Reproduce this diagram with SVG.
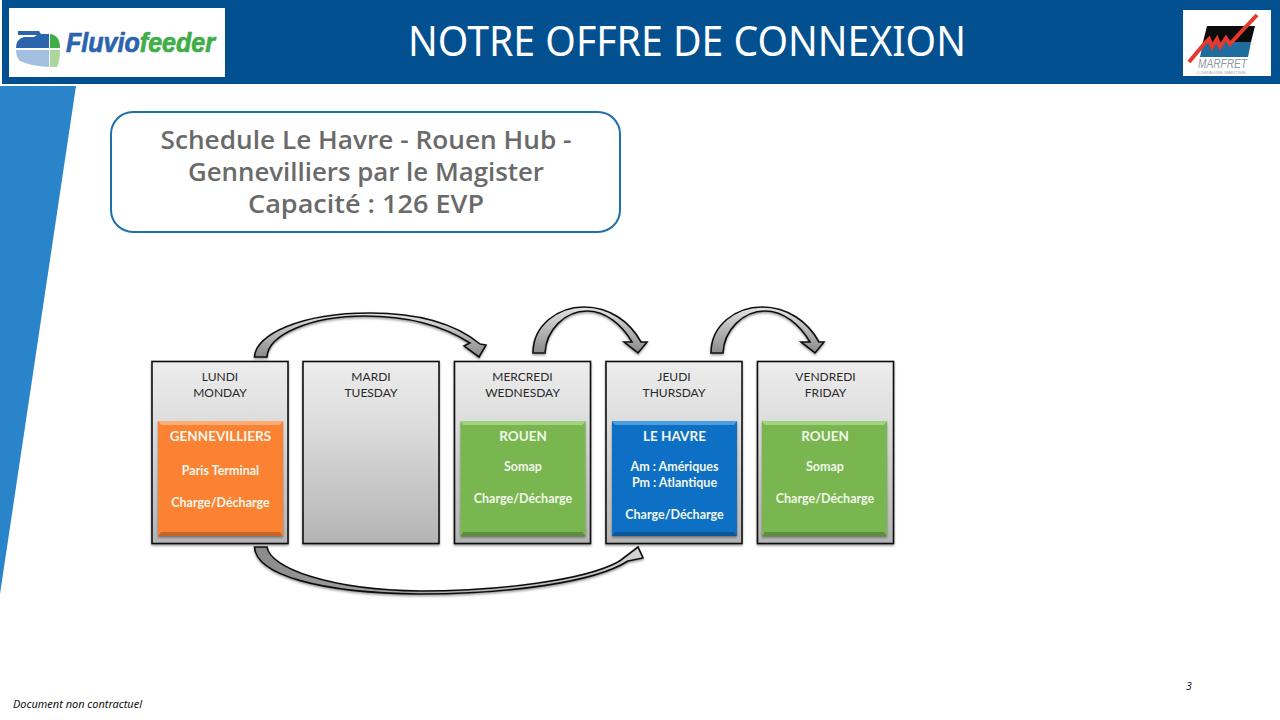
<svg xmlns="http://www.w3.org/2000/svg" width="1280" height="720" viewBox="0 0 1280 720">
<style>
.day{fill:url(#dayFill);stroke:#111;stroke-width:1.6;filter:url(#shadow)}
.dayText{font:12px Lato,"Liberation Sans",sans-serif;fill:#2a2a2a;text-anchor:middle}
.card{filter:url(#shadow)}
.bevel{fill:#000;fill-opacity:.22}
.cardText{font:bold 12.500px Lato,"Liberation Sans",sans-serif;fill:#f1f6ea;text-anchor:middle}
.cardHead{font-size:13.500px}
.arrow{stroke:#111;stroke-width:1.6;stroke-linejoin:miter;filter:url(#shadow)}
.titleBox{font:600 25px "Open Sans","DejaVu Sans",sans-serif;fill:#6a6a6a;text-anchor:middle}
</style>
<defs>
<linearGradient id="dayFill" x1="0" y1="0" x2="0" y2="1"><stop offset="0" stop-color="#ededed"/><stop offset="0.35" stop-color="#dcdcdc"/><stop offset="1" stop-color="#b4b4b4"/></linearGradient>
<linearGradient id="up" x1="0" y1="1" x2="0" y2="0"><stop offset="0" stop-color="#8a8a8a"/><stop offset="1" stop-color="#e4e4e4"/></linearGradient>
<linearGradient id="down" x1="0" y1="0" x2="1" y2="0"><stop offset="0" stop-color="#8a8a8a"/><stop offset="1" stop-color="#d4d4d4"/></linearGradient>
<filter id="shadow" x="-10%" y="-10%" width="120%" height="120%"><feDropShadow dx="0" dy="1.500" stdDeviation="1.300" flood-color="#000" flood-opacity="0.4"/></filter>
</defs>
<rect width="1280" height="720" fill="#fff"/>
<g id="header">
<rect x="2" y="0" width="1278" height="84" fill="#02508f"/>
<text x="687" y="56" font-family="'Noto Sans','Open Sans',sans-serif" font-size="41" fill="#fff" text-anchor="middle" textLength="558" lengthAdjust="spacingAndGlyphs">NOTRE OFFRE DE CONNEXION</text>
</g>
<path id="side-band" d="M0 86H76L0 594Z" fill="#2a84ca"/>
<g id="logo-fluviofeeder">
<rect x="9" y="8" width="216" height="69" fill="#fff"/>
<path d="M18 31H39L41 34H49V48H16Q16 39 24 37H34L37 35H18Z" fill="#2b64ad"/>
<path d="M50 34Q60 35 60 48H50Z" fill="#3fae49"/>
<path d="M16 50H49V67Q30 66 20 61Q16 57 16 50Z" fill="#a3bfe0"/>
<path d="M50 50H60Q60 62 57 67H50Z" fill="#a9d79d"/>
<text x="66" y="52" font-family="'Liberation Sans',sans-serif" font-weight="bold" font-style="italic" font-size="27" textLength="149" lengthAdjust="spacingAndGlyphs" fill="#2b64ad" stroke="#2b64ad" stroke-width=".7">Fluvio<tspan fill="#3fae49" stroke="#3fae49">feeder</tspan></text>
</g>
<g id="logo-marfret">
<rect x="1183" y="10" width="88" height="66" fill="#fff"/>
<path d="M1207 26H1255L1251 42H1203Z" fill="#0b0b0b"/>
<path d="M1203 42H1251L1248 57H1200Z" fill="#1f6c9e"/>
<path d="M1189 62L1204 44L1209 39L1212 47L1217 39L1220 47L1226 38L1230 44L1240 33L1257 15" fill="none" stroke="#e5392d" stroke-width="4"/>
<text x="1198" y="68" font-family="'Liberation Sans',sans-serif" font-style="italic" font-size="13" fill="#8e9aa8" textLength="49" lengthAdjust="spacingAndGlyphs">MARFRET</text>
<text x="1196" y="73.500" font-family="'Liberation Sans',sans-serif" font-size="4" fill="#a5adb8" textLength="50" lengthAdjust="spacingAndGlyphs">COMPAGNIE MARITIME</text>
</g>
<g id="title-box">
<rect x="111" y="112" width="509" height="120" rx="22" fill="#fff" stroke="#1d6fae" stroke-width="2"/>
<text class="titleBox" x="366" y="149" textLength="411" lengthAdjust="spacingAndGlyphs">Schedule Le Havre - Rouen Hub -</text>
<text class="titleBox" x="366" y="181" textLength="356" lengthAdjust="spacingAndGlyphs">Gennevilliers par le Magister</text>
<text class="titleBox" x="366" y="213" textLength="236" lengthAdjust="spacingAndGlyphs">Capacité : 126 EVP</text>
</g>
<g id="connectors">
<path class="arrow" fill="url(#up)" d="M254.500 357C255 335 300 313 370 313C420 313 457 325 480 344L486 345L479 357L464 346L470 343C445 327 410 316 365 316C310 316 268 335 267 357Z"/>
<path class="arrow" fill="url(#up)" d="M533 353C533 325 558 307 584 307C610 307 630 322 641 342H647L638 353L624 342H632C622 325 606 311 587 311C565 311 546 330 545 353Z"/>
<path class="arrow" fill="url(#up)" d="M711 353C711 325 736 307 762 307C788 307 808 322 819 342H824L815 353L801 342H810C800 325 784 311 765 311C743 311 724 330 723 353Z"/>
<path class="arrow" fill="url(#down)" d="M254.500 547H267C270 568 330 590 420 591C500 591 585 580 618 562L621 560L638 547L643 558L628 561C595 582 510 594 420 594C320 593 256 575 254.500 547Z"/>
</g>
<g id="day-lundi">
<rect class="day" x="152" y="361.500" width="136" height="182"/>
<text class="dayText" x="220" y="381">LUNDI</text><text class="dayText" x="220" y="397">MONDAY</text>
<rect class="card" x="158" y="421" width="125" height="115" fill="#fb8233"/>
<path d="M158 421H283L280 425H161Z" fill="#fdae75"/>
<path class="bevel" d="M158 536H283L280 532H161Z"/>
<text class="cardText cardHead" x="220.500" y="441">GENNEVILLIERS</text>
<text class="cardText" x="220.500" y="475">Paris Terminal</text>
<text class="cardText" x="220.500" y="507">Charge/Décharge</text>
</g>
<g id="day-mardi">
<rect class="day" x="303" y="361.500" width="136" height="182"/>
<text class="dayText" x="371" y="381">MARDI</text><text class="dayText" x="371" y="397">TUESDAY</text>
</g>
<g id="day-mercredi">
<rect class="day" x="454.500" y="361.500" width="136" height="182"/>
<text class="dayText" x="522.500" y="381">MERCREDI</text><text class="dayText" x="522.500" y="397">WEDNESDAY</text>
<rect class="card" x="460.500" y="421" width="125" height="115" fill="#79b64f"/>
<path d="M460.500 421H585.500L582.500 425H463.500Z" fill="#a2d37f"/>
<path class="bevel" d="M460.500 536H585.500L582.500 532H463.500Z"/>
<text class="cardText cardHead" x="523" y="441">ROUEN</text>
<text class="cardText" x="523" y="471">Somap</text>
<text class="cardText" x="523" y="503">Charge/Décharge</text>
</g>
<g id="day-jeudi">
<rect class="day" x="606" y="361.500" width="136" height="182"/>
<text class="dayText" x="674" y="381">JEUDI</text><text class="dayText" x="674" y="397">THURSDAY</text>
<rect class="card" x="612" y="421" width="125" height="115" fill="#0a6fc4"/>
<path d="M612 421H737L734 425H615Z" fill="#4b9fe0"/>
<path class="bevel" d="M612 536H737L734 532H615Z"/>
<text class="cardText cardHead" x="674.500" y="441">LE HAVRE</text>
<text class="cardText" x="674.500" y="471">Am : Amériques</text>
<text class="cardText" x="674.500" y="487">Pm : Atlantique</text>
<text class="cardText" x="674.500" y="519">Charge/Décharge</text>
</g>
<g id="day-vendredi">
<rect class="day" x="757.500" y="361.500" width="136" height="182"/>
<text class="dayText" x="825.500" y="381">VENDREDI</text><text class="dayText" x="825.500" y="397">FRIDAY</text>
<rect class="card" x="762" y="421" width="125" height="115" fill="#79b64f"/>
<path d="M762 421H887L884 425H765Z" fill="#a2d37f"/>
<path class="bevel" d="M762 536H887L884 532H765Z"/>
<text class="cardText cardHead" x="825" y="441">ROUEN</text>
<text class="cardText" x="825" y="471">Somap</text>
<text class="cardText" x="825" y="503">Charge/Décharge</text>
</g>
<g id="footer">
<text x="13" y="708" font-family="'Noto Sans','Open Sans',sans-serif" font-style="italic" font-size="10.500" fill="#111" textLength="129" lengthAdjust="spacingAndGlyphs">Document non contractuel</text>
<text x="1189" y="690" font-family="'Noto Sans','Open Sans',sans-serif" font-style="italic" font-size="10.500" fill="#222" text-anchor="middle">3</text>
</g>
</svg>
